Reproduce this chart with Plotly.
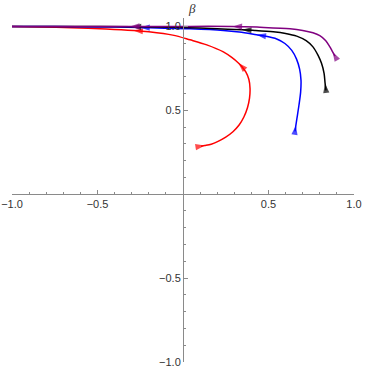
import plotly.graph_objects as go

# ---- data (flow order: start -> end) ----
red_x = [0.105, 0.128, 0.165, 0.205, 0.250, 0.292, 0.328, 0.356, 0.377, 0.389, 0.392, 0.385, 0.368, 0.345, 0.324, 0.285, 0.236, 0.139, 0.041, -0.06, -0.20, -0.29, -0.45, -0.65, -0.85, -1.0]
red_y = [0.286, 0.290, 0.298, 0.315, 0.340, 0.372, 0.412, 0.460, 0.515, 0.572, 0.630, 0.685, 0.727, 0.760, 0.782, 0.815, 0.848, 0.890, 0.920, 0.948, 0.968, 0.976, 0.985, 0.992, 0.997, 1.0]
red_arrows = [1, 14, 21]

blue_x = [0.655, 0.660, 0.666, 0.678, 0.688, 0.690, 0.682, 0.664, 0.636, 0.596, 0.548, 0.48, 0.43, 0.330, 0.236, 0.041, -0.15, -0.25, -0.5, -0.75, -1.0]
blue_y = [0.375, 0.410, 0.450, 0.530, 0.610, 0.680, 0.745, 0.805, 0.857, 0.898, 0.925, 0.942, 0.950, 0.966, 0.976, 0.986, 0.991, 0.994, 0.997, 0.999, 1.0]
blue_arrows = [1, 12, 17]

black_x = [0.836, 0.831, 0.825, 0.810, 0.79, 0.760, 0.720, 0.665, 0.600, 0.528, 0.42, 0.345, 0.2, 0.041, -0.2, -0.30, -0.6, -1.0]
black_y = [0.619, 0.660, 0.720, 0.780, 0.827, 0.878, 0.915, 0.942, 0.958, 0.968, 0.976, 0.980, 0.986, 0.992, 0.997, 0.998, 1.0, 1.0]
black_arrows = [1, 11, 15]

purple_x = [0.889, 0.875, 0.858, 0.835, 0.80, 0.760, 0.700, 0.626, 0.45, 0.36, 0.29, 0.041, -0.2, -0.31, -0.6, -1.0]
purple_y = [0.823, 0.848, 0.880, 0.915, 0.945, 0.962, 0.976, 0.986, 0.995, 0.998, 1.0, 1.0, 1.0, 1.0, 1.0, 1.0]
purple_arrows = [1, 10, 13]

tick_vals = [-1.0, -0.5, 0.5, 1.0]
tick_text = ["\u22121.0", "\u22120.5", "0.5", "1.0"]

x_range = [-1.0, 1.0]
y_range = [-1.0, 1.05]

curves = [
    (red_x, red_y, red_arrows, "#FF0000"),
    (blue_x, blue_y, blue_arrows, "#0000FF"),
    (black_x, black_y, black_arrows, "#000000"),
    (purple_x, purple_y, purple_arrows, "#800080"),
]

fig = go.Figure()
for xs, ys, arrows, col in curves:
    sizes = [10 if i in arrows else 0 for i in range(len(xs))]
    fig.add_trace(go.Scatter(
        x=xs, y=ys, mode="lines+markers",
        line=dict(color=col, width=1.5, shape="spline", smoothing=0.9),
        marker=dict(symbol="arrow", size=sizes, color=col, angleref="previous",
                    line=dict(width=0)),
        showlegend=False, hoverinfo="skip", cliponaxis=False,
    ))

axis_color = "#8a8a8a"
font = dict(family="Liberation Sans, Arial, sans-serif", size=11, color="#333333")

fig.update_layout(
    width=379, height=371,
    margin=dict(l=12, r=25, t=18, b=9, autoexpand=False),
    paper_bgcolor="white", plot_bgcolor="white",
    font=font,
    xaxis=dict(range=x_range, anchor="free", automargin=False, fixedrange=True,
               position=(0 - y_range[0]) / (y_range[1] - y_range[0]),
               showgrid=False, zeroline=False, showline=True, linecolor=axis_color, linewidth=1,
               ticks="inside", ticklen=4, tickcolor=axis_color, tickwidth=1,
               tickmode="array", tickvals=tick_vals, ticktext=tick_text,
               minor=dict(ticks="inside", ticklen=2, dtick=0.1, tick0=0, tickcolor=axis_color, showgrid=False),
               tickfont=font),
    yaxis=dict(range=y_range, anchor="free", automargin=False, fixedrange=True,
               position=(0 - x_range[0]) / (x_range[1] - x_range[0]),
               showgrid=False, zeroline=False, showline=True, linecolor=axis_color, linewidth=1,
               ticks="inside", ticklen=4, tickcolor=axis_color, tickwidth=1,
               tickmode="array", tickvals=tick_vals, ticktext=tick_text,
               minor=dict(ticks="inside", ticklen=2, dtick=0.1, tick0=0, tickcolor=axis_color, showgrid=False),
               tickfont=font),
    annotations=[
        dict(text="<i>β</i>", xref="x", yref="paper", x=0.02, y=1.0, xanchor="left", yanchor="bottom",
             showarrow=False, font=dict(family="Liberation Serif, serif", size=13, color="#333333")),
        dict(text="<i>ω</i><sub>eff</sub>", xref="x", yref="y", x=1.01, y=0.0, xanchor="left", yanchor="bottom",
             showarrow=False, font=dict(family="Liberation Serif, serif", size=13, color="#333333")),
    ],
)

fig.write_html("out.html", config={"displayModeBar": False},
               post_script="document.body.style.margin='0';")
